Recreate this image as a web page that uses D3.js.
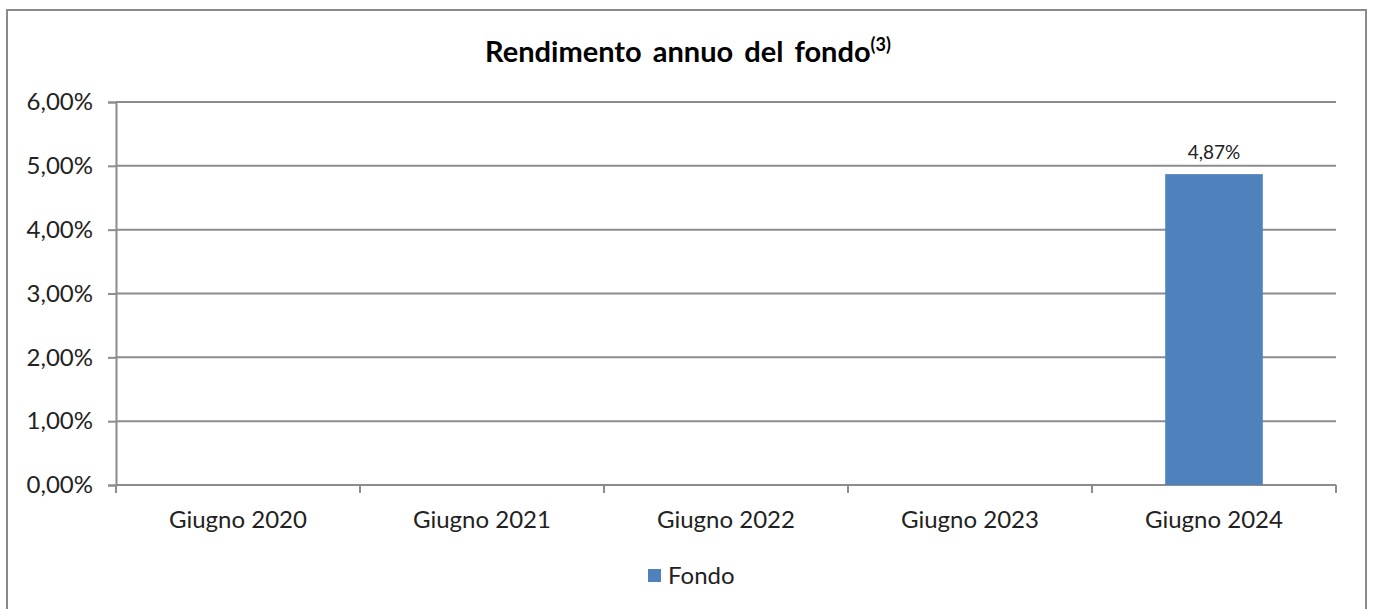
<!DOCTYPE html>
<html>
<head>
<meta charset="utf-8">
<script src="https://cdn.jsdelivr.net/npm/d3@7"></script>
<style>
  body { margin: 0; background: #fff; }
  svg { display: block; font-family: Lato, "Open Sans", sans-serif; }
</style>
</head>
<body>
<script>
// data
const categories = ["Giugno 2020", "Giugno 2021", "Giugno 2022", "Giugno 2023", "Giugno 2024"];
const fondo = [null, null, null, null, 4.87];
const yTicks = [0, 1, 2, 3, 4, 5, 6];
const seriesName = "Fondo";

const width = 1373, height = 609;
const margin = { top: 102, right: 37, bottom: 124, left: 116 };
const barColor = "#4f81bd";
const gridColor = "#8c8c8c";

const fmt = v => d3.format(".2f")(v).replace(".", ",") + "%";

const svg = d3.select("body").append("svg")
    .attr("width", width)
    .attr("height", height);

// chart frame
svg.append("rect")
    .attr("x", 7).attr("y", 10)
    .attr("width", 1359).attr("height", 610)
    .attr("fill", "none")
    .attr("stroke", "#8a8a8a")
    .attr("stroke-width", 2);

const x = d3.scaleBand()
    .domain(categories)
    .range([margin.left, width - margin.right])
    .paddingInner(0.6)
    .paddingOuter(0.3);

const y = d3.scaleLinear()
    .domain([0, 6])
    .range([height - margin.bottom, margin.top]);

// gridlines
svg.append("g")
    .selectAll("line")
    .data(yTicks)
    .join("line")
    .attr("x1", margin.left)
    .attr("x2", width - margin.right)
    .attr("y1", d => y(d))
    .attr("y2", d => y(d))
    .attr("stroke", gridColor)
    .attr("stroke-width", 2);

// y axis
const yAxis = svg.append("g")
    .attr("transform", `translate(${margin.left},0)`)
    .call(d3.axisLeft(y).tickValues(yTicks).tickSize(8).tickPadding(15).tickFormat(fmt));
yAxis.select(".domain").attr("stroke", gridColor).attr("stroke-width", 2);
yAxis.selectAll(".tick line").attr("stroke", gridColor).attr("stroke-width", 2);
yAxis.selectAll("text")
    .attr("fill", "#222")
    .style("font-family", "Lato, sans-serif")
    .style("font-size", "24px");

// x axis with boundary ticks between categories
const xAxisG = svg.append("g")
    .attr("transform", `translate(0,${y(0)})`);
xAxisG.append("line")
    .attr("x1", margin.left).attr("x2", width - margin.right)
    .attr("stroke", gridColor).attr("stroke-width", 2);
const step = (width - margin.right - margin.left) / categories.length;
xAxisG.selectAll(".bt")
    .data(d3.range(categories.length + 1))
    .join("line")
    .attr("class", "bt")
    .attr("x1", i => margin.left + i * step)
    .attr("x2", i => margin.left + i * step)
    .attr("y1", 0).attr("y2", 8)
    .attr("stroke", gridColor).attr("stroke-width", 2);
xAxisG.selectAll(".cl")
    .data(categories)
    .join("text")
    .attr("class", "cl")
    .attr("x", d => x(d) + x.bandwidth() / 2)
    .attr("y", 43)
    .attr("text-anchor", "middle")
    .attr("fill", "#222")
    .style("font-size", "24px")
    .text(d => d);

// bars
const rows = categories.map((c, i) => ({ cat: c, v: fondo[i] })).filter(d => d.v != null);
svg.append("g")
    .selectAll("rect")
    .data(rows)
    .join("rect")
    .attr("x", d => x(d.cat))
    .attr("width", x.bandwidth())
    .attr("y", d => y(d.v))
    .attr("height", d => y(0) - y(d.v))
    .attr("fill", barColor);

// value labels
svg.append("g")
    .selectAll("text")
    .data(rows)
    .join("text")
    .attr("x", d => x(d.cat) + x.bandwidth() / 2)
    .attr("y", d => y(d.v) - 15)
    .attr("text-anchor", "middle")
    .attr("fill", "#222")
    .style("font-size", "19px")
    .text(d => fmt(d.v));

// title
const title = svg.append("text")
    .attr("x", 688)
    .attr("y", 62)
    .attr("text-anchor", "middle")
    .attr("fill", "#000")
    .style("font-size", "29px")
    .style("font-weight", "bold")
    .style("word-spacing", "4px");
title.append("tspan").text("Rendimento annuo del fondo");
title.append("tspan")
    .attr("dy", -11)
    .style("font-size", "18px")
    .text("(3)");

// legend
const legend = svg.append("g").attr("transform", "translate(648,569)");
legend.append("rect")
    .attr("width", 13).attr("height", 13)
    .attr("fill", barColor);
legend.append("text")
    .attr("x", 20).attr("y", 15)
    .attr("fill", "#222")
    .style("font-size", "24px")
    .text(seriesName);
</script>
</body>
</html>
